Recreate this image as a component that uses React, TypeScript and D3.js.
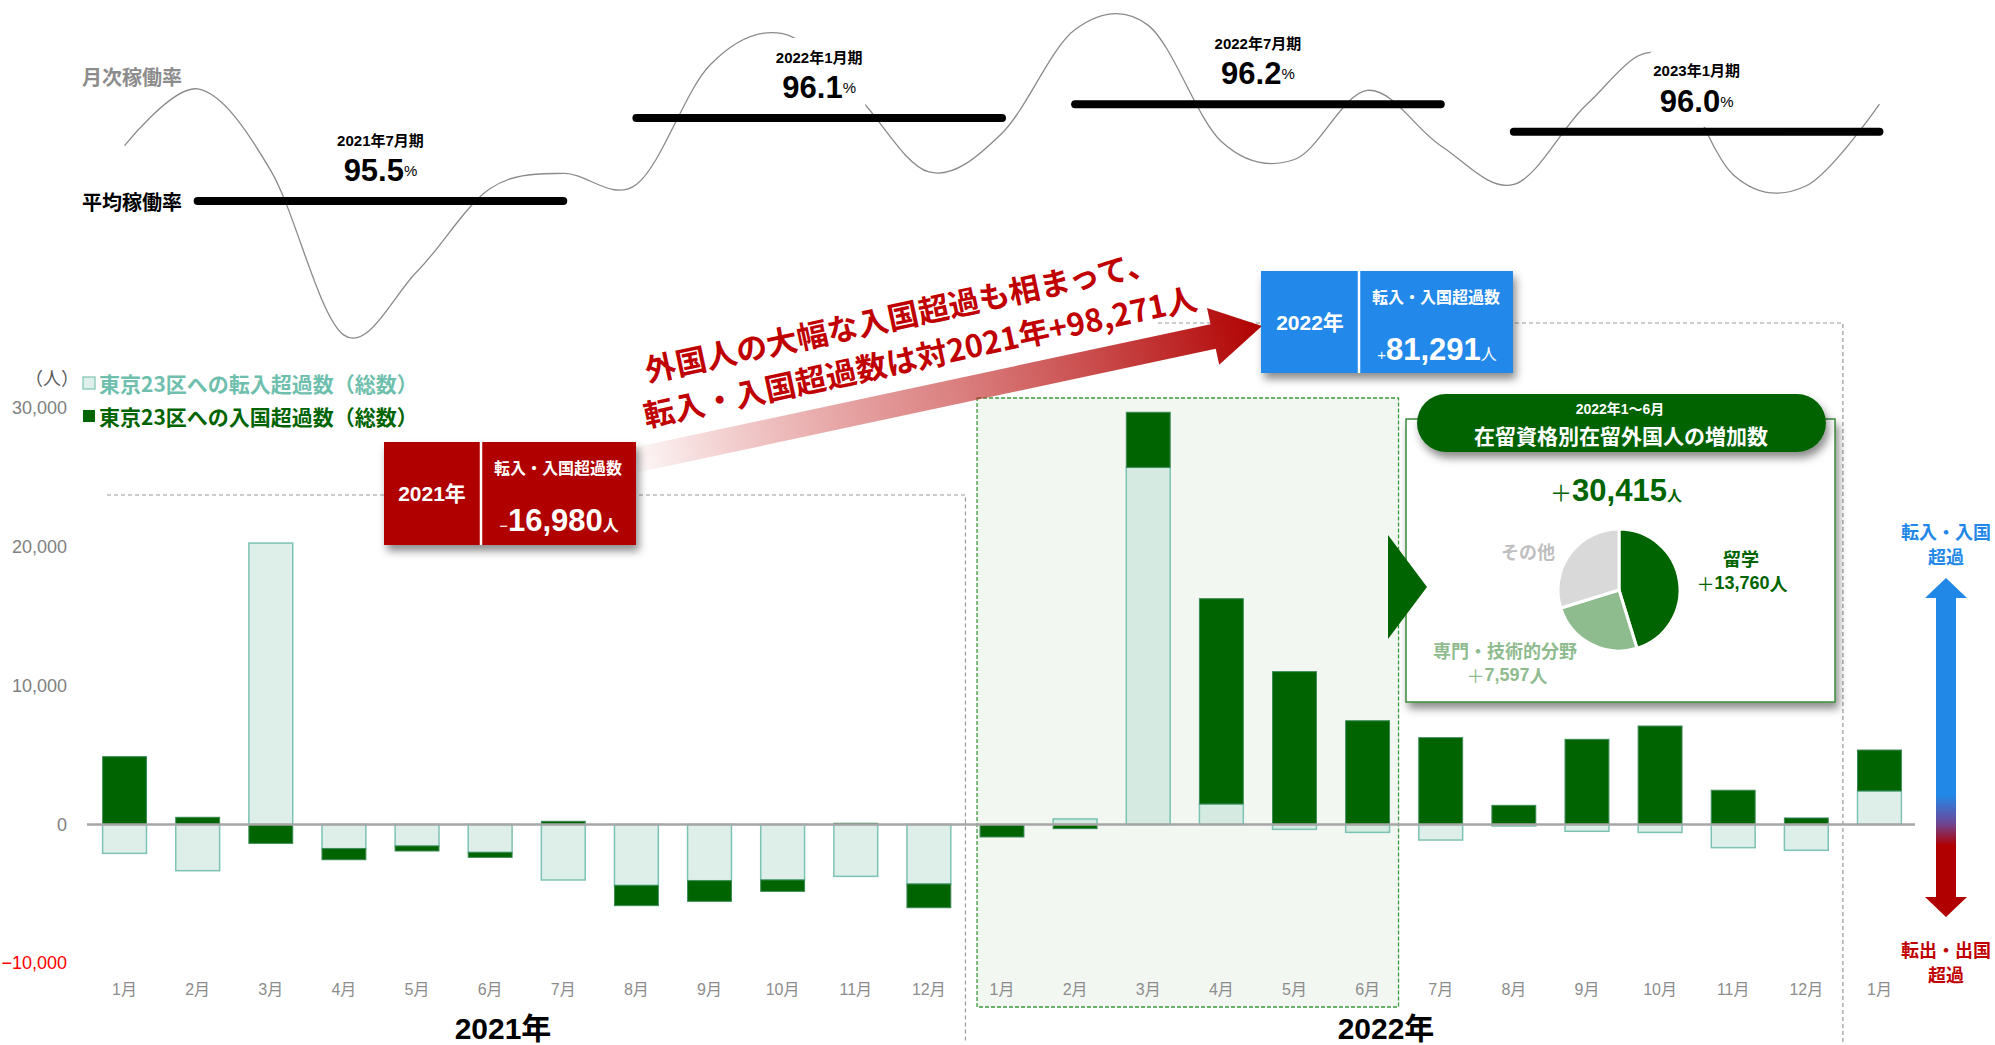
import React from 'react';
import * as d3 from 'd3';

// ---- data ----
const monthLabels = ['1月','2月','3月','4月','5月','6月','7月','8月','9月','10月','11月','12月','1月','2月','3月','4月','5月','6月','7月','8月','9月','10月','11月','12月','1月'];
// 東京23区への転入超過数（総数）
const tennyu = [-2080,-3330,20290,-1740,-1550,-2010,-4000,-4390,-4050,-4000,-3740,-4290,
  0,400,25750,1480,-350,-570,-1120,-110,-490,-570,-1670,-1860, 2420];
// 東京23区への入国超過数（総数）
const nyukoku = [4890,520,-1360,-800,-360,-360,230,-1460,-1490,-820,90,-1710,
  -900,-300,3970,14800,11020,7480,6260,1380,6140,7100,2470,470, 2950];
const yTicks = [30000,20000,10000,0,-10000];
// 月次稼働率 (%)
const monthlyRate = [95.90,96.31,95.72,94.53,94.99,95.59,95.70,95.62,96.48,96.71,96.27,95.71,95.99,
  96.74,96.77,95.93,95.80,96.30,95.90,95.62,96.20,96.56,95.69,95.61,96.20];
const periodLabels = ['2021年7月期','2022年1月期','2022年7月期','2023年1月期'];
const periodAvg = [95.5,96.1,96.2,96.0];
const periodStart = [1,7,13,19];
const periodEnd = [6,12,18,24];
const pieLabels = ['留学','専門・技術的分野','その他'];
const pieValues = [13760,7597,9058];
const pieColors = ['#006400','#8fbc8f','#d9d9d9'];

const FONT = "'Liberation Sans', Arial, 'Noto Sans CJK JP', sans-serif";
const CJK = "'Noto Sans CJK JP', 'Liberation Sans', sans-serif";

export default function App() {
  const W = 1995, H = 1045;
  const x = d3.scaleBand<number>().domain(d3.range(monthLabels.length)).range([88, 1916]).paddingInner(0.4).paddingOuter(0.2);
  const bw = x.bandwidth();
  const cx = (i: number) => (x(i) as number) + bw / 2;
  const y = d3.scaleLinear().domain([-10000, 30000]).range([963.2, 408.4]);
  const yr = d3.scaleLinear().domain([95.5, 96.5]).range([201, 62.7]);

  const rows = monthLabels.map((m, i) => ({ i, tennyu: tennyu[i], nyukoku: nyukoku[i] }));
  const series = d3.stack<any>().keys(['tennyu', 'nyukoku']).offset(d3.stackOffsetDiverging)(rows);

  const line = d3.line<number>().x((d, i) => cx(i)).y(d => yr(d)).curve(d3.curveCatmullRom.alpha(0));
  const curvePath = line(monthlyRate) || '';

  const pie = d3.pie<number>().sort(null).value(d => d)(pieValues);
  const arc = d3.arc<d3.PieArcDatum<number>>().innerRadius(0).outerRadius(61);
  const pcx = 1619, pcy = 590;

  // big red arrow geometry
  const T = [636, 460], P = [1262, 326];
  const len = Math.hypot(P[0] - T[0], P[1] - T[1]);
  const u = [(P[0] - T[0]) / len, (P[1] - T[1]) / len];
  const n = [-u[1], u[0]];
  const sw = 12.5, hl = 50, hw = 29;
  const B = [P[0] - u[0] * hl, P[1] - u[1] * hl];
  const pt = (p: number[], k: number) => `${p[0] + n[0] * k},${p[1] + n[1] * k}`;
  const arrowPts = [pt(T, -sw), pt(B, -sw), pt(B, -hw), `${P[0]},${P[1]}`, pt(B, hw), pt(B, sw), pt(T, sw)].join(' ');
  const angle = Math.atan2(u[1], u[0]) * 180 / Math.PI;

  const midA = (cx(11) + cx(12)) / 2;
  const midB = (cx(23) + cx(24)) / 2;

  return (
    <svg width={W} height={H} style={{ position: 'absolute', left: 0, top: 0, background: '#fff' }} fontFamily={FONT}>
      <defs>
        <filter id="shadow" x="-20%" y="-20%" width="140%" height="160%">
          <feDropShadow dx="3" dy="6" stdDeviation="4" floodColor="#000" floodOpacity="0.45" />
        </filter>
        <linearGradient id="redArrow" gradientUnits="userSpaceOnUse" x1={T[0]} y1={T[1]} x2={P[0]} y2={P[1]}>
          <stop offset="0" stopColor="#c00000" stopOpacity="0.03" />
          <stop offset="0.5" stopColor="#c43030" stopOpacity="0.6" />
          <stop offset="1" stopColor="#b00000" stopOpacity="1" />
        </linearGradient>
        <linearGradient id="sideArrow" x1="0" y1="0" x2="0" y2="1">
          <stop offset="0" stopColor="#2288e8" />
          <stop offset="0.64" stopColor="#2288e8" />
          <stop offset="0.72" stopColor="#6a4a9a" />
          <stop offset="0.79" stopColor="#b00000" />
          <stop offset="1" stopColor="#b00000" />
        </linearGradient>
      </defs>

      {/* highlight rect 2022 1-6 */}
      <rect x={(x(12) as number) - 3} y={398} width={cx(17) + bw / 2 + 9 - ((x(12) as number) - 3)} height={609}
        fill="#f2f7f2" stroke="#3a9a3a" strokeWidth={1.3} strokeDasharray="4,2" />

      {/* dashed period brackets */}
      <path d={`M107,495 H${midA} V1042`} fill="none" stroke="#999" strokeWidth={1.2} strokeDasharray="4,3" />
      <path d={`M1158,323 H${midB} V1042`} fill="none" stroke="#999" strokeWidth={1.2} strokeDasharray="4,3" />

      {/* bars */}
      {series.map((s, k) => (
        <g key={k}>
          {s.map((d, i) => {
            const y0 = y(d[0]), y1 = y(d[1]);
            const top = Math.min(y0, y1), h = Math.abs(y1 - y0);
            if (h < 0.01) return null;
            return k === 0 ? (
              <rect key={i} x={x(i)} y={top} width={bw} height={h} fill="rgba(160,210,195,0.35)" stroke="#7dc3b3" strokeWidth={1.5} />
            ) : (
              <rect key={i} x={x(i)} y={top} width={bw} height={h} fill="#006400" stroke="#3a8a55" strokeWidth={1} />
            );
          })}
        </g>
      ))}

      {/* zero line */}
      <line x1={87} x2={1915} y1={y(0)} y2={y(0)} stroke="#a6a6a6" strokeWidth={2.5} />

      {/* y ticks */}
      {yTicks.map(t => (
        <text key={t} x={67} y={y(t)} textAnchor="end" dominantBaseline="central" fontSize={18}
          fill={t < 0 ? '#ff0000' : '#808080'}>{d3.format(',')(t)}</text>
      ))}
      <text x={52} y={377} textAnchor="middle" dominantBaseline="central" fontSize={18} fill="#595959" fontFamily={CJK}>（人）</text>

      {/* month labels */}
      {monthLabels.map((m, i) => (
        <text key={i} x={cx(i)} y={989} textAnchor="middle" dominantBaseline="central" fontSize={16} fill="#8c8c8c">{m}</text>
      ))}
      <text x={503} y={1028} textAnchor="middle" dominantBaseline="central" fontSize={30} fontWeight="bold" fill="#000">2021年</text>
      <text x={1386} y={1028} textAnchor="middle" dominantBaseline="central" fontSize={30} fontWeight="bold" fill="#000">2022年</text>

      {/* legend */}
      <rect x={83} y={377} width={12} height={12} fill="#dff0ec" stroke="#7dc3b3" strokeWidth={1.2} />
      <text x={99} y={383} dominantBaseline="central" fontSize={21} fontWeight="bold" fill="#6fbfae" fontFamily={CJK}>東京23区への転入超過数（総数）</text>
      <rect x={83} y={410} width={12} height={12} fill="#006400" />
      <text x={99} y={416} dominantBaseline="central" fontSize={21} fontWeight="bold" fill="#006400" fontFamily={CJK}>東京23区への入国超過数（総数）</text>

      {/* occupancy curve */}
      <path d={curvePath} fill="none" stroke="#8a8a8a" strokeWidth={1.3} />
      {periodAvg.map((v, k) => {
        const xc = (cx(periodStart[k]) + cx(periodEnd[k])) / 2;
        const ly = yr(v);
        return <rect key={k} x={xc - 46} y={ly - 80} width={92} height={75} fill="#fff" />;
      })}
      {periodAvg.map((v, k) => {
        const x0 = cx(periodStart[k]), x1 = cx(periodEnd[k]);
        const xc = (x0 + x1) / 2;
        const ly = yr(v);
        return (
          <g key={k}>
            <line x1={x0} x2={x1} y1={ly} y2={ly} stroke="#000" strokeWidth={8} strokeLinecap="round" />
            <text x={xc} y={ly - 61} textAnchor="middle" dominantBaseline="central" fontSize={15} fontWeight="bold">{periodLabels[k]}</text>
            <text x={xc} y={ly - 31} textAnchor="middle" dominantBaseline="central" fontWeight="bold">
              <tspan fontSize={31}>{v.toFixed(1)}</tspan><tspan fontSize={15} fontWeight="normal">%</tspan>
            </text>
          </g>
        );
      })}
      <text x={82} y={76} dominantBaseline="central" fontSize={20} fontWeight="bold" fill="#8c8c8c" fontFamily={CJK}>月次稼働率</text>
      <text x={82} y={201} dominantBaseline="central" fontSize={20} fontWeight="bold" fill="#000" fontFamily={CJK}>平均稼働率</text>

      {/* big red arrow */}
      <polygon points={arrowPts} fill="url(#redArrow)" />
      <g transform={`translate(645,369) rotate(${angle})`} fill="#c00000" fontWeight="bold" fontSize={31}>
        <text x={0} y={0} dominantBaseline="central" fontFamily={CJK}>外国人の大幅な入国超過も相まって、</text>
        <text x={-11} y={44} dominantBaseline="central" fontFamily={CJK}>転入・入国超過数は対2021年+98,271人</text>
      </g>

      {/* red box 2021 */}
      <g filter="url(#shadow)">
        <rect x={384} y={442} width={252} height={103} fill="#b00000" />
      </g>
      <line x1={481} x2={481} y1={442} y2={545} stroke="#fff" strokeWidth={2.5} />
      <text x={432} y={493} textAnchor="middle" dominantBaseline="central" fontSize={21} fontWeight="bold" fill="#fff">2021年</text>
      <text x={558} y={467} textAnchor="middle" dominantBaseline="central" fontSize={16} fontWeight="bold" fill="#fff" fontFamily={CJK}>転入・入国超過数</text>
      <text x={559} y={531} textAnchor="middle" fill="#fff" fontWeight="bold">
        <tspan fontSize={15} fontWeight="normal">−</tspan><tspan fontSize={31}>16,980</tspan><tspan fontSize={16} fontFamily={CJK}>人</tspan>
      </text>

      {/* blue box 2022 */}
      <g filter="url(#shadow)">
        <rect x={1261} y={271} width={252} height={102} fill="#2288ea" />
      </g>
      <line x1={1359} x2={1359} y1={271} y2={373} stroke="#fff" strokeWidth={2.5} />
      <text x={1310} y={322} textAnchor="middle" dominantBaseline="central" fontSize={21} fontWeight="bold" fill="#fff">2022年</text>
      <text x={1436} y={296} textAnchor="middle" dominantBaseline="central" fontSize={16} fontWeight="bold" fill="#fff" fontFamily={CJK}>転入・入国超過数</text>
      <text x={1437} y={360} textAnchor="middle" fill="#fff" fontWeight="bold">
        <tspan fontSize={15} fontWeight="normal">+</tspan><tspan fontSize={31}>81,291</tspan><tspan fontSize={16} fontWeight="normal" fontFamily={CJK}>人</tspan>
      </text>

      {/* pie panel */}
      <g filter="url(#shadow)">
        <rect x={1406} y={419} width={429} height={283} fill="#fff" stroke="#3a8a3a" strokeWidth={1.5} />
      </g>
      <g filter="url(#shadow)">
        <rect x={1417} y={394} width={409} height={58} rx={29} fill="#006400" />
      </g>
      {/* triangle pointer */}
      <polygon points="1388,535 1427,587 1388,639" fill="#006400" />

      <text x={1620} y={409} textAnchor="middle" dominantBaseline="central" fontSize={14} fontWeight="bold" fill="#fff">2022年1〜6月</text>
      <text x={1621} y={435} textAnchor="middle" dominantBaseline="central" fontSize={21} fontWeight="bold" fill="#fff" fontFamily={CJK}>在留資格別在留外国人の増加数</text>
      <text x={1616} y={501} textAnchor="middle" fill="#006400" fontWeight="bold">
        <tspan fontSize={22} fontWeight="normal" fontFamily={CJK}>＋</tspan><tspan fontSize={31}>30,415</tspan><tspan fontSize={15} fontFamily={CJK}>人</tspan>
      </text>
      <g transform={`translate(${pcx},${pcy})`}>
        {pie.map((p, i) => (
          <path key={i} d={arc(p) || ''} fill={pieColors[i]} stroke="#fff" strokeWidth={3} />
        ))}
      </g>
      <text x={1741} y={558} textAnchor="middle" dominantBaseline="central" fontSize={18} fontWeight="bold" fill="#006400" fontFamily={CJK}>{pieLabels[0]}</text>
      <text x={1742} y={583} textAnchor="middle" dominantBaseline="central" fontSize={18} fontWeight="bold" fill="#006400">
        <tspan fontFamily={CJK} fontWeight="normal">＋</tspan>{d3.format(',')(pieValues[0])}<tspan fontFamily={CJK}>人</tspan>
      </text>
      <text x={1505} y={650} textAnchor="middle" dominantBaseline="central" fontSize={18} fontWeight="bold" fill="#8fbc8f" fontFamily={CJK}>{pieLabels[1]}</text>
      <text x={1507} y={675} textAnchor="middle" dominantBaseline="central" fontSize={18} fontWeight="bold" fill="#8fbc8f">
        <tspan fontFamily={CJK} fontWeight="normal">＋</tspan>{d3.format(',')(pieValues[1])}<tspan fontFamily={CJK}>人</tspan>
      </text>
      <text x={1528} y={551} textAnchor="middle" dominantBaseline="central" fontSize={18} fontWeight="bold" fill="#bfbfbf" fontFamily={CJK}>{pieLabels[2]}</text>

      {/* right side arrow */}
      <path d="M1946,578 L1967,598 L1956,598 L1956,897 L1967,897 L1946,917 L1925,897 L1936,897 L1936,598 L1925,598 Z" fill="url(#sideArrow)" />
      <text x={1946} y={531} textAnchor="middle" dominantBaseline="central" fontSize={18} fontWeight="bold" fill="#2288e8" fontFamily={CJK}>転入・入国</text>
      <text x={1946} y={556} textAnchor="middle" dominantBaseline="central" fontSize={18} fontWeight="bold" fill="#2288e8" fontFamily={CJK}>超過</text>
      <text x={1946} y={949} textAnchor="middle" dominantBaseline="central" fontSize={18} fontWeight="bold" fill="#c00000" fontFamily={CJK}>転出・出国</text>
      <text x={1946} y={974} textAnchor="middle" dominantBaseline="central" fontSize={18} fontWeight="bold" fill="#c00000" fontFamily={CJK}>超過</text>
    </svg>
  );
}
